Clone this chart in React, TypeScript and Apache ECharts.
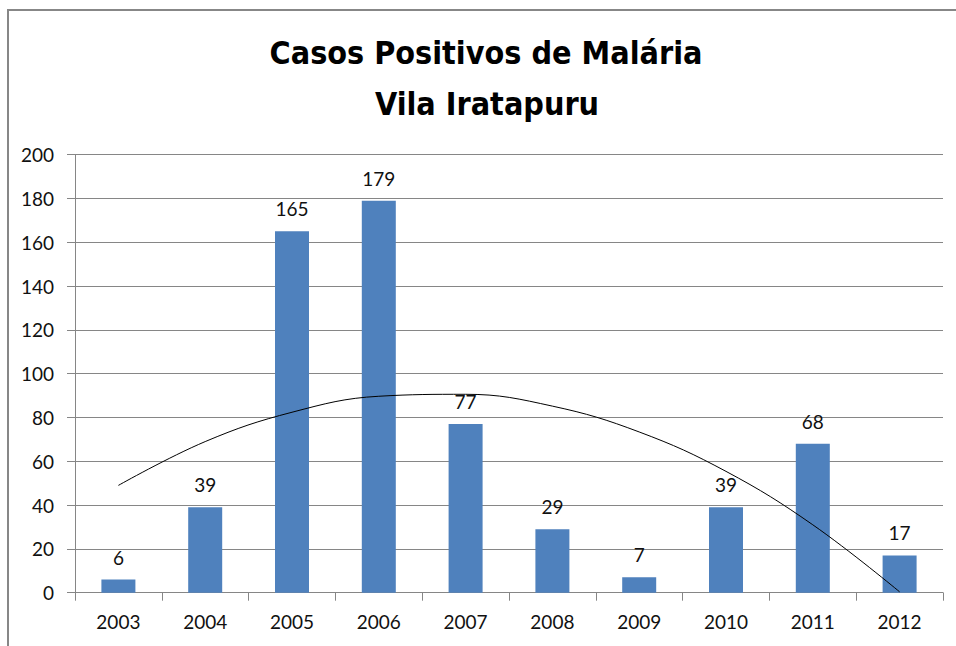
import React, { useEffect, useRef } from "react";
import * as echarts from "echarts";

const years = ["2003", "2004", "2005", "2006", "2007", "2008", "2009", "2010", "2011", "2012"];
const cases = [6, 39, 165, 179, 77, 29, 7, 39, 68, 17];
// polynomial trendline values
const trend = [49, 69, 82.4, 89.7, 90.6, 85.2, 73.4, 55.4, 31, 0.4];
const titleLines = ["Casos Positivos de Malária", "Vila Iratapuru"];

export default function App() {
  const ref = useRef<HTMLDivElement>(null);
  useEffect(() => {
    const chart = echarts.init(ref.current!, null, { renderer: "svg" });
    const labelFont = "Lato, 'Open Sans', sans-serif";
    const titleFont = "'Liberation Sans Narrow', 'DejaVu Sans Condensed', Lato, sans-serif";
    chart.setOption({
      animation: false,
      backgroundColor: "#ffffff",
      graphic: [
        {
          type: "rect",
          shape: { x: 8, y: 10, width: 980, height: 680 },
          style: { fill: "none", stroke: "#878787", lineWidth: 2 },
          silent: true,
        },
        {
          type: "text",
          x: 486,
          y: 53,
          style: {
            text: titleLines[0],
            fill: "#000",
            font: `bold 32px ${titleFont}`,
            textAlign: "center",
            textVerticalAlign: "middle",
          },
        },
        {
          type: "text",
          x: 487,
          y: 104,
          style: {
            text: titleLines[1],
            fill: "#000",
            font: `bold 32px ${titleFont}`,
            textAlign: "center",
            textVerticalAlign: "middle",
          },
        },
      ],
      grid: { left: 75, right: 13, top: 154.7, bottom: 53.3, containLabel: false },
      xAxis: {
        type: "category",
        data: years,
        boundaryGap: true,
        axisLine: { show: true, lineStyle: { color: "#868686", width: 1 } },
        axisTick: { show: true, length: 8, interval: 0, lineStyle: { color: "#868686" } },
        axisLabel: { color: "#111", fontSize: 19, fontFamily: labelFont, margin: 19, interval: 0 },
      },
      yAxis: {
        type: "value",
        min: 0,
        max: 200,
        interval: 20,
        axisLine: { show: true, lineStyle: { color: "#868686", width: 1 } },
        axisTick: { show: true, length: 8, lineStyle: { color: "#868686" } },
        axisLabel: { color: "#111", fontSize: 19, fontFamily: labelFont, margin: 21 },
        splitLine: { show: true, lineStyle: { color: "#868686", width: 1 } },
      },
      series: [
        {
          type: "bar",
          data: cases,
          barWidth: 34,
          itemStyle: { color: "#4F81BD" },
          label: {
            show: true,
            position: "top",
            distance: 13,
            color: "#111",
            fontSize: 19,
            fontFamily: labelFont,
          },
          z: 2,
        },
        {
          type: "line",
          data: trend,
          smooth: 0.4,
          symbol: "none",
          showSymbol: false,
          lineStyle: { color: "#000", width: 1 },
          z: 3,
        },
      ],
    });
    return () => chart.dispose();
  }, []);
  return (
    <div
      ref={ref}
      style={{ position: "absolute", left: 0, top: 0, width: 956, height: 646 }}
    />
  );
}
